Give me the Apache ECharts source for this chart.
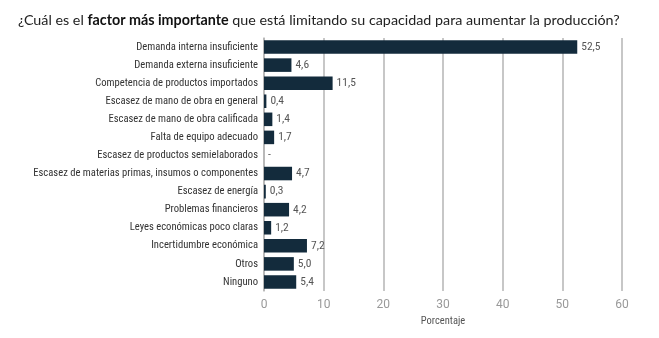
<!DOCTYPE html>
<html><head><meta charset="utf-8">
<script src="https://cdn.jsdelivr.net/npm/echarts@6/dist/echarts.min.js"></script>
<style>html,body{margin:0;padding:0;background:#fff}#c{width:659px;height:338px}</style>
</head><body><div id="c"></div>
<script>
const categories = [
  "Demanda interna insuficiente",
  "Demanda externa insuficiente",
  "Competencia de productos importados",
  "Escasez de mano de obra en general",
  "Escasez de mano de obra calificada",
  "Falta de equipo adecuado",
  "Escasez de productos semielaborados",
  "Escasez de materias primas, insumos o componentes",
  "Escasez de energía",
  "Problemas financieros",
  "Leyes económicas poco claras",
  "Incertidumbre económica",
  "Otros",
  "Ninguno"
];
const values = [52.5, 4.6, 11.5, 0.4, 1.4, 1.7, 0, 4.7, 0.3, 4.2, 1.2, 7.2, 5.0, 5.4];
const xTicks = [0, 10, 20, 30, 40, 50, 60];
const titleBold = "factor más importante";
const titlePre = "¿Cuál es el ";
const titlePost = " que está limitando su capacidad para aumentar la producción?";
const axisName = "Porcentaje";

const chart = echarts.init(document.getElementById('c'));
const narrow = "'Liberation Sans Narrow','Roboto Condensed',Roboto,sans-serif";
chart.setOption({
  animation: false,
  title: {
    text: '{n|' + titlePre + '}{b|' + titleBold + '}{n|' + titlePost + '}',
    left: 13, top: 8,
    textStyle: {
      fontWeight: 'normal',
      rich: {
        n: {fontFamily: 'Lato, sans-serif', fontSize: 14.3, fontWeight: 'normal', color: '#222'},
        b: {fontFamily: 'Lato, sans-serif', fontSize: 14.3, fontWeight: 'bold', color: '#111'}
      }
    }
  },
  grid: {left: 264, right: 37, top: 38, bottom: 47},
  xAxis: {
    type: 'value', min: xTicks[0], max: xTicks[xTicks.length-1], interval: 10,
    name: axisName, nameLocation: 'middle', nameGap: 22,
    nameTextStyle: {fontFamily: narrow, fontSize: 10.5, color: '#555'},
    axisLabel: {fontFamily: 'Roboto, sans-serif', fontSize: 12, color: '#999', margin: 8},
    axisLine: {show: false}, axisTick: {show: false},
    splitLine: {show: true, lineStyle: {color: '#b5b5b5', width: 1.5}}
  },
  yAxis: {
    type: 'category', data: categories, inverse: true,
    axisLine: {show: true, lineStyle: {color: '#b5b5b5', width: 1.5}},
    axisTick: {show: false},
    axisLabel: {fontFamily: narrow, fontSize: 10.6, color: '#333', margin: 6}
  },
  series: [{
    type: 'bar', data: values, barWidth: '75%',
    itemStyle: {color: '#132b3c'},
    label: {
      show: true, position: 'right', distance: 4,
      fontFamily: narrow, fontSize: 11.5, color: '#555',
      formatter: p => p.value === 0 ? '-' : p.value.toFixed(1).replace('.', ',')
    }
  }]
});
</script></body></html>
